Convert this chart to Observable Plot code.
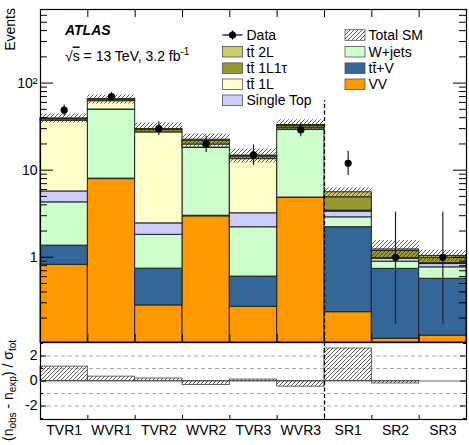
<!DOCTYPE html>
<html><head><meta charset="utf-8">
<script src="https://cdn.jsdelivr.net/npm/d3@7"></script>
<script src="https://cdn.jsdelivr.net/npm/@observablehq/plot@0.6"></script>
<style>
body{margin:0;background:#fff;}
#c{position:relative;width:469px;height:445px;background:#fff;}
#c svg{position:absolute;left:0;overflow:visible;}
</style></head><body>
<svg width="0" height="0" style="position:absolute">
<defs>
<pattern id="hatch" patternUnits="userSpaceOnUse" width="4" height="4">
<path d="M-1,1 l2,-2 M0,4 l4,-4 M3,5 l2,-2" stroke="#333" stroke-width="0.8"/>
</pattern>
</defs></svg>
<div id="c"></div>
<script>
// ---- data ----
const regions   = ["TVR1","WVR1","TVR2","WVR2","TVR3","WVR3","SR1","SR2","SR3"];
const vv        = [0.82, 7.9, 0.28, 2.95, 0.27, 4.8, 0.234, 0.116, 0.126];
const ttV       = [0.54, 0.1, 0.46, 0.05, 0.33, 0.05, 1.98, 0.62, 0.44];
const wjets     = [2.91, 41.4, 1.07, 15.0, 1.61, 24.25, 0.66, 0.154, 0.2];
const singleTop = [1.43, 0.3, 0.64, 0.2, 0.99, 0.3, 0.47, 0.07, 0.07];
const tt1L      = [31.3, 12.3, 24.7, 1.5, 10.2, 1.3, 0.09, 0.02, 0.02];
const tt1L1tau  = [1.5, 2.5, 1.8, 2.0, 0.9, 1.6, 1.45, 0.2, 0.13];
const tt2L      = [0.8, 1.0, 0.7, 0.7, 0.4, 0.7, 0.69, 0.05, 0.05];
const totalLo   = [34.8, 57.4, 26.7, 18.5, 12.1, 28.4, 4.88, 0.97, 0.9];
const totalHi   = [44.1, 72.8, 34.8, 26.0, 17.5, 37.9, 6.25, 1.55, 1.2];
const dataObs   = [49, 70, 30, 20, 15, 29, 12, 1, 1];
const dataLo    = [42, 62, 25, 16, 11.3, 24.2, 8.7, 0.17, 0.17];
const dataHi    = [56, 78, 36, 24.5, 19.5, 34.5, 16.5, 3.3, 3.3];
const pull      = [1.15, 0.35, 0.2, -0.32, 0.12, -0.45, 2.6, -0.2, 0.0];
const yMajor    = [1, 10, 100];
const yMajorLabels = ["1", "10", "10²"];
const yMinor    = [0.2,0.3,0.4,0.5,0.6,0.7,0.8,0.9,2,3,4,5,6,7,8,9,20,30,40,50,60,70,80,90,200,300,400,500,600];
const pullMajor = [-2, 0, 2];
const pullMinor = [-3, -1, 1, 3];
const pullGrid  = [-2, -1, 1, 2];
const binEdges  = [1,2,3,4,5,6,7,8];
const srStart   = 6;

const colors = {vv:"#ff9900", ttV:"#336699", wjets:"#ccffcc", st:"#ccccff", tt1L:"#ffffcc", tt1L1tau:"#999933", tt2L:"#cccc66"};
const font = '"Liberation Sans", Arial, Helvetica, sans-serif';
const W = 469;
const yMin = 0.105, yMax = 700;
const idx = regions.map((_, i) => i);

// stacked layers
const layerDefs = [[vv, colors.vv],[ttV, colors.ttV],[wjets, colors.wjets],[singleTop, colors.st],[tt1L, colors.tt1L],[tt1L1tau, colors.tt1L1tau],[tt2L, colors.tt2L]];
const cum = idx.map(() => 0);
const layerMarks = layerDefs.map(([vals, color]) => {
  const rows = idx.map(i => { const lo = cum[i]; cum[i] += vals[i]; return {i, y1: Math.max(lo, yMin), y2: cum[i]}; });
  return Plot.rect(rows, {x1: d => d.i, x2: d => d.i + 1, y1: "y1", y2: "y2", fill: color, stroke: "#222", strokeWidth: 1});
});

const mMain = {l: 40, r: 3, t: 9, b: 1};
const Hmain = 343;
const fW = W - mMain.l - mMain.r, fH = Hmain - mMain.t - mMain.b;

const main = Plot.plot({
  width: W, height: Hmain,
  marginLeft: mMain.l, marginRight: mMain.r, marginTop: mMain.t, marginBottom: mMain.b,
  x: {domain: [0, 9], axis: null},
  y: {type: "log", domain: [yMin, yMax], axis: null},
  style: {fontFamily: font, fontSize: "14px", color: "black", background: "transparent", overflow: "visible"},
  marks: [
    ...layerMarks,
    Plot.rect(idx, {x1: i => i, x2: i => i + 1, y1: i => totalLo[i], y2: i => totalHi[i], fill: "url(#hatch)"}),
    Plot.ruleX([srStart], {y1: yMin, y2: 63, stroke: "black", strokeWidth: 1.3, strokeDasharray: "4,2.5"}),
    Plot.ruleX(idx, {x: i => i + 0.5, y1: i => dataLo[i], y2: i => dataHi[i], stroke: "#222", strokeWidth: 1.2}),
    Plot.dot(idx, {x: i => i + 0.5, y: i => dataObs[i], r: 3.6, fill: "black"}),
    // ticks (inward)
    Plot.ruleX(binEdges, {insetBottom: fH - 8, stroke: "black"}),
    Plot.ruleX(binEdges, {insetTop: fH - 8, stroke: "black"}),
    Plot.ruleY(yMajor, {insetRight: fW - 13, stroke: "black"}),
    Plot.ruleY(yMinor, {insetRight: fW - 7, stroke: "black"}),
    Plot.ruleY(yMajor, {insetLeft: fW - 13, stroke: "black"}),
    Plot.ruleY(yMinor, {insetLeft: fW - 7, stroke: "black"}),
    Plot.axisY(yMajor, {tickSize: 0, tickPadding: 3, tickFormat: d => yMajorLabels[yMajor.indexOf(d)], label: null, fontSize: 14}),
    Plot.frame({stroke: "black", strokeWidth: 1.2})
  ]
});

const Hpull = 104, topPull = 341;
const mPull = {l: 40, r: 3, t: 1, b: 26};
const pH = Hpull - mPull.t - mPull.b;
const pullPlot = Plot.plot({
  width: W, height: Hpull,
  marginLeft: mPull.l, marginRight: mPull.r, marginTop: mPull.t, marginBottom: mPull.b,
  x: {domain: [0, 9], axis: null},
  y: {domain: [-3.08, 3.08], axis: null},
  style: {fontFamily: font, fontSize: "14px", color: "black", background: "transparent", overflow: "visible"},
  marks: [
    Plot.ruleY(pullGrid, {stroke: "#aaa", strokeDasharray: "4,3"}),
    Plot.ruleY([0], {stroke: "#666", strokeWidth: 1}),
    Plot.rect(idx, {x1: i => i, x2: i => i + 1, y1: 0, y2: i => pull[i], fill: "url(#hatch)", stroke: "#444", strokeWidth: 0.8}),
    Plot.ruleX([srStart], {stroke: "black", strokeWidth: 1.3, strokeDasharray: "4,2.5"}),
    Plot.ruleX(binEdges, {insetTop: pH - 4, stroke: "black"}),
    Plot.ruleY(pullMajor, {insetRight: fW - 6, stroke: "black"}),
    Plot.ruleY(pullMinor, {insetRight: fW - 3, stroke: "black"}),
    Plot.ruleY(pullMajor, {insetLeft: fW - 6, stroke: "black"}),
    Plot.ruleY(pullMinor, {insetLeft: fW - 3, stroke: "black"}),
    Plot.axisY(pullMajor, {tickSize: 0, tickPadding: 3, tickFormat: d => d < 0 ? "-" + (-d) : String(d), label: null, fontSize: 14}),
    Plot.axisX(idx.map(i => i + 0.5), {tickSize: 0, tickPadding: 6, tickFormat: d => regions[Math.round(d - 0.5)], label: null, fontSize: 14}),
    Plot.frame({stroke: "black", strokeWidth: 1.2})
  ]
});

const c = document.getElementById("c");
main.style.top = "0px";
pullPlot.style.top = topPull + "px";
c.appendChild(main);
c.appendChild(pullPlot);

// ---- annotations ----
const sm = d3.select(main);
sm.append("text").attr("transform", "translate(15,8) rotate(-90)").attr("text-anchor", "end")
  .attr("font-family", font).attr("font-size", 14).text("Events");
sm.append("text").attr("x", 65).attr("y", 35).attr("text-anchor", "start").attr("font-family", font).attr("font-size", 14)
  .attr("font-weight", "bold").attr("font-style", "italic").text("ATLAS");
const en = sm.append("text").attr("x", 65).attr("y", 60.5).attr("text-anchor", "start").attr("font-family", font).attr("font-size", 14);
en.append("tspan").text("√");
en.append("tspan").style("text-decoration", "overline").text("s");
en.append("tspan").text(" = 13 TeV, 3.2 fb");
en.append("tspan").attr("font-size", 10).attr("dy", -5.5).text("-1");

// legend
const tt = "t" + "t\u0304";
const leftItems = [{label: "Data", kind: "data"}, {label: tt + " 2L", fill: colors.tt2L}, {label: tt + " 1L1τ", fill: colors.tt1L1tau}, {label: tt + " 1L", fill: colors.tt1L}, {label: "Single Top", fill: colors.st}];
const rightItems = [{label: "Total SM", fill: "url(#hatch)"}, {label: "W+jets", fill: colors.wjets}, {label: tt + "+V", fill: colors.ttV}, {label: "VV", fill: colors.vv}];
const rowY = [35, 51.7, 68.2, 84.3, 100.3];
const lg = sm.append("g").attr("font-family", font).attr("font-size", 14).attr("text-anchor", "start");
function drawCol(items, bx, tx) {
  items.forEach((it, k) => {
    const y = rowY[k];
    if (it.kind === "data") {
      lg.append("line").attr("x1", bx).attr("x2", bx + 20).attr("y1", y).attr("y2", y).attr("stroke", "black").attr("stroke-width", 1.2);
      lg.append("line").attr("x1", bx + 10).attr("x2", bx + 10).attr("y1", y - 4.5).attr("y2", y + 4.5).attr("stroke", "black").attr("stroke-width", 1.2);
      lg.append("circle").attr("cx", bx + 10).attr("cy", y).attr("r", 3.6).attr("fill", "black");
    } else {
      lg.append("rect").attr("x", bx).attr("y", y - 5.3).attr("width", 20).attr("height", 10.6)
        .attr("fill", it.fill).attr("stroke", "#555").attr("stroke-width", 0.8);
    }
    lg.append("text").attr("x", tx).attr("y", y).attr("dy", "0.36em").attr("text-anchor", "start").text(it.label);
  });
}
drawCol(leftItems, 222.5, 246.5);
drawCol(rightItems, 345, 368.5);

// pull y label
const pt = d3.select(pullPlot).append("text").attr("transform", "translate(13,49.5) rotate(-90)")
  .attr("text-anchor", "middle").attr("font-family", font).attr("font-size", 14);
pt.append("tspan").text("(n");
pt.append("tspan").attr("font-size", 10).attr("dy", 3).text("obs");
pt.append("tspan").attr("dy", -3).text(" - n");
pt.append("tspan").attr("font-size", 10).attr("dy", 3).text("exp");
pt.append("tspan").attr("dy", -3).text(") / σ");
pt.append("tspan").attr("font-size", 10).attr("dy", 3).text("tot");
</script>
</body></html>
